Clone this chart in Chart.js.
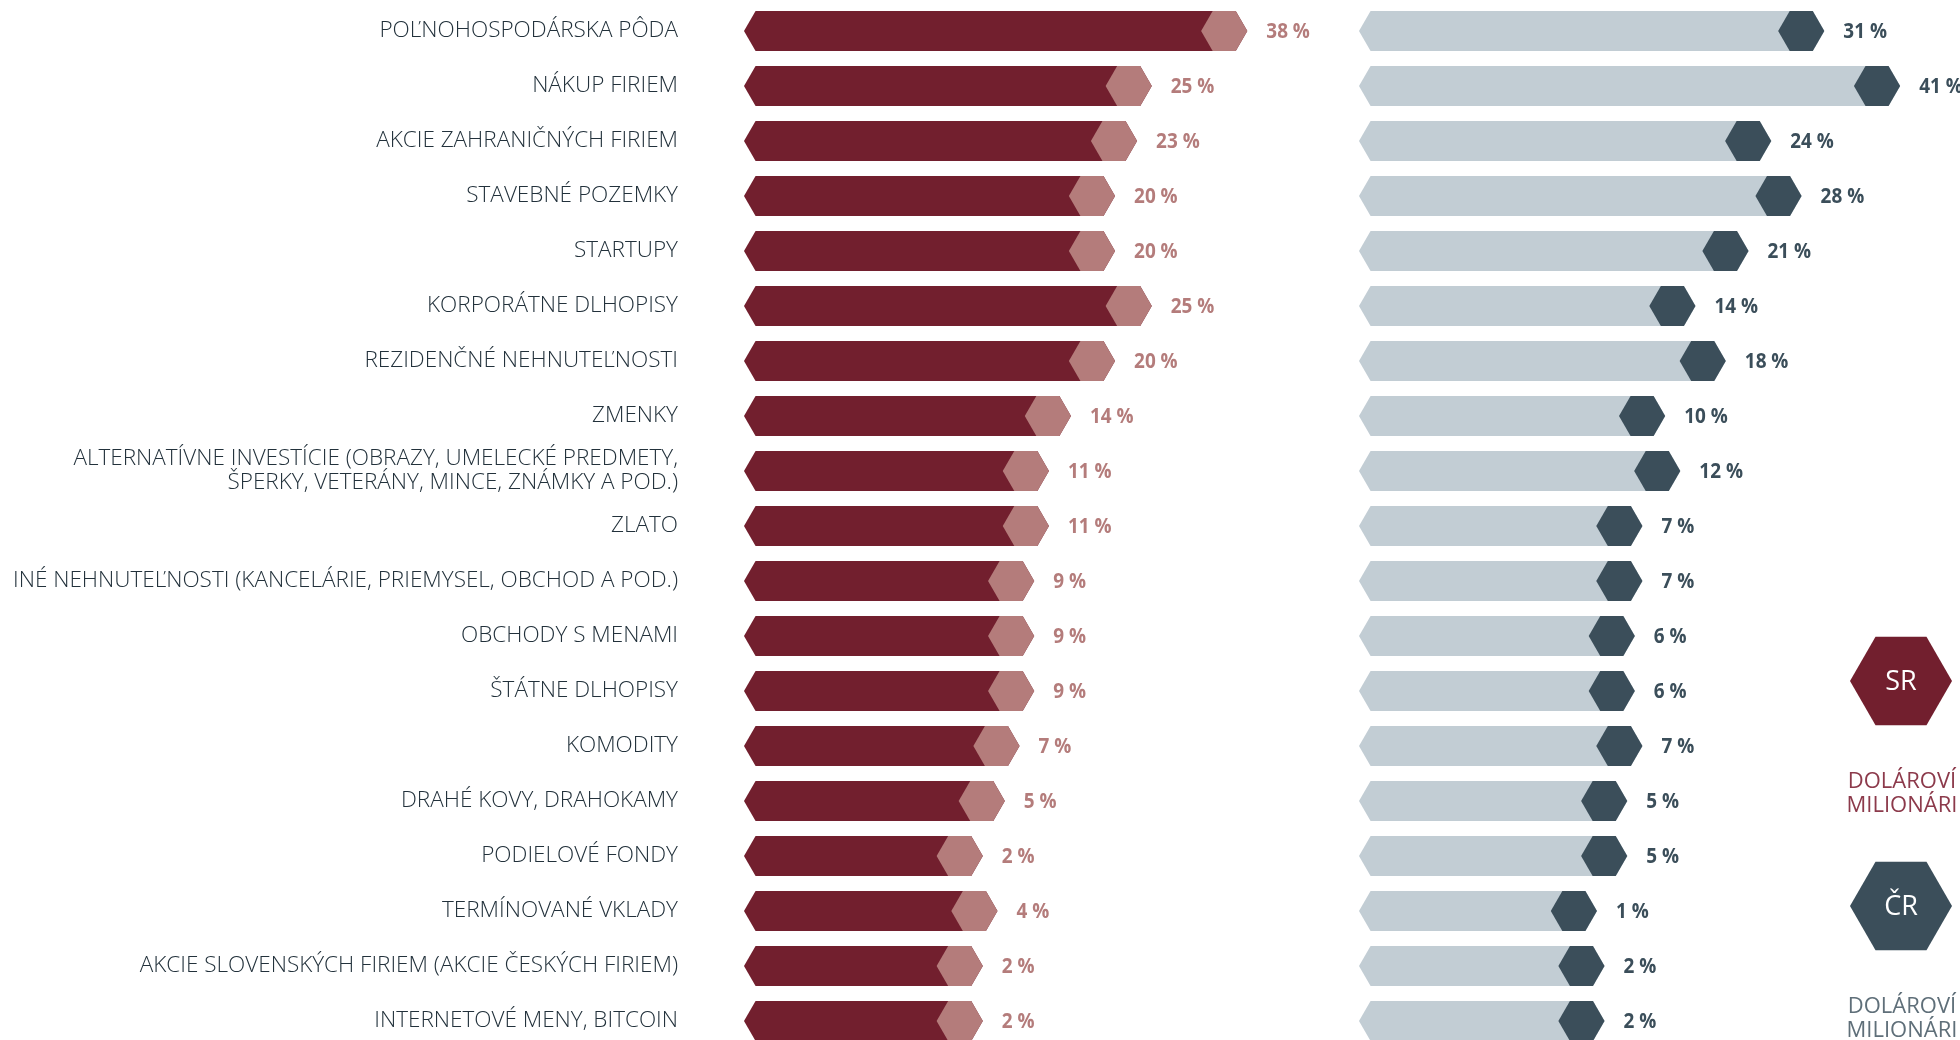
<!DOCTYPE html>
<html lang="sk">
<head>
<meta charset="utf-8">
<title>Investície dolárových milionárov</title>
<script src="https://cdn.jsdelivr.net/npm/chart.js@4.4.1/dist/chart.umd.min.js"></script>
<style>
  html, body { margin: 0; padding: 0; background: #fff; overflow: hidden; }
  #wrap { position: relative; width: 1960px; height: 1052px; }
</style>
</head>
<body>
<div id="wrap"><canvas id="chart" width="1960" height="1052"></canvas></div>
<script>
// --- DATA ---
const categories = [
    'POĽNOHOSPODÁRSKA PÔDA',
    'NÁKUP FIRIEM',
    'AKCIE ZAHRANIČNÝCH FIRIEM',
    'STAVEBNÉ POZEMKY',
    'STARTUPY',
    'KORPORÁTNE DLHOPISY',
    'REZIDENČNÉ NEHNUTEĽNOSTI',
    'ZMENKY',
    ['ALTERNATÍVNE INVESTÍCIE (OBRAZY, UMELECKÉ PREDMETY,', 'ŠPERKY, VETERÁNY, MINCE, ZNÁMKY A POD.)'],
    'ZLATO',
    'INÉ NEHNUTEĽNOSTI (KANCELÁRIE, PRIEMYSEL, OBCHOD A POD.)',
    'OBCHODY S MENAMI',
    'ŠTÁTNE DLHOPISY',
    'KOMODITY',
    'DRAHÉ KOVY, DRAHOKAMY',
    'PODIELOVÉ FONDY',
    'TERMÍNOVANÉ VKLADY',
    'AKCIE SLOVENSKÝCH FIRIEM (AKCIE ČESKÝCH FIRIEM)',
    'INTERNETOVÉ MENY, BITCOIN'
];
const valuesSR = [38, 25, 23, 20, 20, 25, 20, 14, 11, 11, 9, 9, 9, 7, 5, 2, 4, 2, 2];
const valuesCR = [31, 41, 24, 28, 21, 14, 18, 10, 12, 7, 7, 6, 6, 7, 5, 5, 1, 2, 2];
const seriesNames = ['SR', 'ČR'];
const legendCaption = ['DOLÁROVÍ', 'MILIONÁRI'];

// --- HELPERS ---
const FONT = "'Open Sans', 'DejaVu Sans', sans-serif";

const hexagon = (ctx, cx, cy, r) => {
    ctx.beginPath();
    for (let k = 0; k < 6; k++) {
        const a = Math.PI / 3 * k;
        ctx.lineTo(cx + r * Math.cos(a), cy + r * Math.sin(a));
    }
    ctx.closePath();
};

// bars are drawn as long hexagons with a hexagon cap at the value end
const hexBars = {
    id: 'hexBars',
    beforeDatasetDraw: () => false,
    afterDatasetsDraw(chart) {
        const ctx = chart.ctx;
        chart.data.datasets.forEach((ds, i) => {
            const meta = chart.getDatasetMeta(i);
            meta.data.forEach((bar, j) => {
                const { x, y, base, height } = bar.getProps(['x', 'y', 'base', 'height'], true);
                const h = height / 2;
                const d = h / Math.sqrt(3);
                const capW = 4 * d;

                ctx.save();
                ctx.fillStyle = ds.backgroundColor;
                ctx.beginPath();
                ctx.moveTo(base, y);
                ctx.lineTo(base + d, y - h);
                ctx.lineTo(x - d, y - h);
                ctx.lineTo(x, y);
                ctx.lineTo(x - d, y + h);
                ctx.lineTo(base + d, y + h);
                ctx.closePath();
                ctx.fill();

                ctx.fillStyle = ds.capColor;
                ctx.beginPath();
                ctx.moveTo(x - capW, y);
                ctx.lineTo(x - capW + d, y - h);
                ctx.lineTo(x - d, y - h);
                ctx.lineTo(x, y);
                ctx.lineTo(x - d, y + h);
                ctx.lineTo(x - capW + d, y + h);
                ctx.closePath();
                ctx.fill();

                // value label, slightly condensed like the original
                ctx.translate(x + 19, y + 1);
                ctx.scale(0.86, 1);
                ctx.fillStyle = ds.labelColor;
                ctx.font = `700 22px ${FONT}`;
                ctx.textAlign = 'left';
                ctx.textBaseline = 'middle';
                ctx.fillText(`${ds.data[j]} %`, 0, 0);
                ctx.restore();
            });
        });
    }
};

const hexLegend = {
    id: 'hexLegend',
    afterDraw(chart) {
        const ctx = chart.ctx;
        const items = [
            { cy: 681, fill: chart.data.datasets[0].backgroundColor, text: '#8c3a4b' },
            { cy: 906, fill: chart.data.datasets[1].capColor, text: '#5f6f79' }
        ];
        const cx = 1901;
        items.forEach((it, i) => {
            ctx.save();
            ctx.fillStyle = it.fill;
            hexagon(ctx, cx, it.cy, 51);
            ctx.fill();
            ctx.fillStyle = '#ffffff';
            ctx.font = `400 27px ${FONT}`;
            ctx.textAlign = 'center';
            ctx.textBaseline = 'middle';
            ctx.fillText(seriesNames[i], cx, it.cy + 1);
            ctx.fillStyle = it.text;
            ctx.font = `400 22px ${FONT}`;
            ctx.textBaseline = 'alphabetic';
            legendCaption.forEach((line, k) => ctx.fillText(line, cx + 1, it.cy + 107 + k * 24));
            ctx.restore();
        });
    }
};

// --- CHART ---
new Chart(document.getElementById('chart'), {
    type: 'bar',
    data: {
        labels: categories,
        datasets: [
            {
                label: seriesNames[0], data: valuesSR, xAxisID: 'xSR', base: -30.5,
                backgroundColor: '#721f2e', capColor: '#b47c7b', labelColor: '#b47c7b'
            },
            {
                label: seriesNames[1], data: valuesCR, xAxisID: 'xCR', base: -30.4,
                backgroundColor: '#c2cdd4', capColor: '#3b4e5a', labelColor: '#3b4e5a'
            }
        ]
    },
    options: {
        indexAxis: 'y',
        responsive: false,
        animation: false,
        layout: { padding: { top: 3.5, bottom: 3.5, left: 0, right: 0 } },
        datasets: { bar: { grouped: false, barPercentage: 40 / 55, categoryPercentage: 1 } },
        scales: {
            y: {
                type: 'category',
                grid: { display: false, drawTicks: false },
                border: { display: false },
                afterFit: (scale) => {
                    scale.width = 744;
                    scale.paddingTop = 0;
                    scale.paddingBottom = 0;
                },
                ticks: {
                    autoSkip: false,
                    padding: 66,
                    color: '#22313b',
                    font: { family: FONT, size: 22.5, weight: 300, lineHeight: 1.07 }
                }
            },
            xSR: { type: 'linear', position: 'bottom', stack: 'panels', stackWeight: 615, min: -30.5, max: 53.2, display: false },
            xCR: { type: 'linear', position: 'bottom', stack: 'panels', stackWeight: 601, min: -30.4, max: 48.9, display: false }
        },
        plugins: { legend: { display: false }, tooltip: { enabled: false } }
    },
    plugins: [hexBars, hexLegend]
});
</script>
</body>
</html>
